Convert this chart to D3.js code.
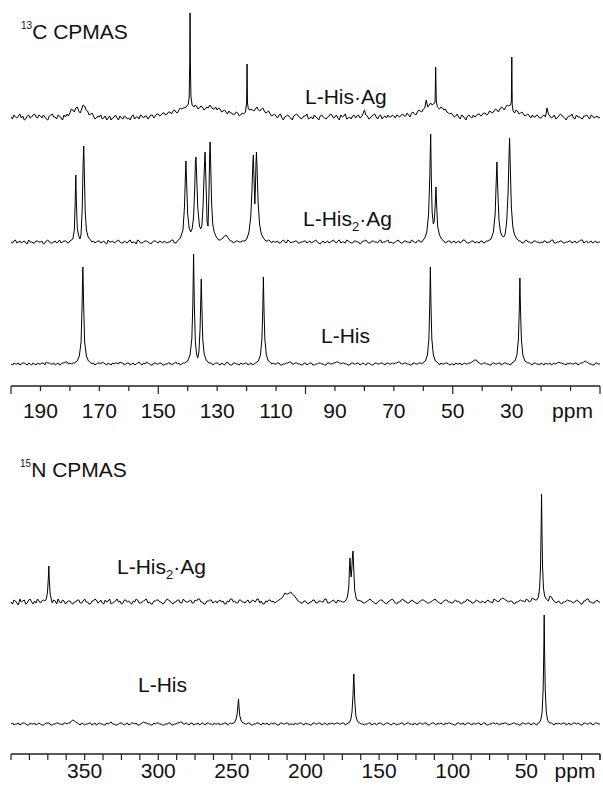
<!DOCTYPE html>
<html><head><meta charset="utf-8">
<script src="https://cdn.jsdelivr.net/npm/d3@7"></script>
<style>
body{margin:0;background:#fff}
svg{display:block}
text{font-family:"Liberation Sans",Arial,Helvetica,sans-serif;fill:#111}
</style>
</head><body>
<svg id="chart" width="603" height="789"></svg>
<script>
// ---------------- DATA ----------------
// 13C axis ticks / labels (ppm)
const ticks13 = d3.range(200, -1, -10);
const labels13 = [190, 170, 150, 130, 110, 90, 70, 50, 30];
// 15N axis ticks / labels (ppm)
const ticks15 = d3.range(0, 33).map(i => 400 - 12.5 * i).concat([0]);
const labels15 = [350, 300, 250, 200, 150, 100, 50];

// 13C baseline samples, every 0.5 ppm from 200 down to 0 (20 per row = 10 ppm)
const hisAg13C_base = [
 0,-2,2,0,-1,1,3,-1,1,-3,-2,1,2,-1,0,2,3,0,-1,2,
 1,-1,2,0,-2,-3,1,2,3,0,0,-2,2,1,-1,-3,2,0,3,1,
 4,8,7,5,9,10,6,4,8,12,11,7,6,2,3,4,1,-2,-1,1,
 0,2,-2,-1,1,-3,-1,1,-3,-1,0,2,-1,-3,1,-1,-2,1,0,-2,
 -1,-3,1,2,-2,0,0,-2,2,1,-1,1,1,-2,0,2,2,-1,1,3,
 3,1,2,4,4,2,3,5,5,3,6,7,5,4,7,9,8,6,9,8,
 10,8,9,11,10,12,11,8,9,11,10,7,8,10,9,12,10,8,8,10,
 7,9,8,5,6,7,5,3,6,4,4,2,3,5,4,1,2,4,3,2,
 4,5,6,8,7,6,8,10,7,6,8,9,6,4,5,6,3,1,2,3,
 1,-1,2,3,-1,-3,0,1,2,0,-1,-3,1,2,3,1,0,-2,-1,1,
 1,3,-2,-1,0,-2,2,0,-1,-3,1,2,0,-1,-2,0,1,3,2,-1,
 0,2,-1,-3,2,0,1,3,-2,-1,0,-2,1,2,-1,1,2,-1,0,3,
 7,2,1,-2,-1,1,2,3,0,-2,1,2,-2,0,1,-1,2,0,0,2,
 1,-1,2,1,0,2,3,1,1,4,2,0,4,5,3,2,5,7,6,5,
 8,9,17,10,12,14,11,12,13,15,14,11,10,9,7,8,5,4,3,4,
 2,0,1,3,0,-2,2,1,-1,-3,1,2,0,-1,2,0,1,3,3,1,
 2,4,4,2,3,6,5,4,6,8,7,5,8,10,9,7,10,12,11,9,
 12,10,8,7,6,3,4,5,3,1,2,3,1,-1,2,0,0,2,1,-1,
 -1,1,2,0,9,3,1,-1,0,2,-2,-1,1,3,2,0,-1,-3,0,1,
 1,3,-1,-2,2,0,0,-1,-2,1,1,2,0,-2,2,1,-1,0,1,-1,
 0];
const hisAg13C_peaks = [
 [[141.5,9],[140.5,10],[139.8,13],[139.5,20],[139.3,55],[139.2,104],[139.1,55],[138.9,20],[138.5,12],[137.8,10]],
 [[121.0,3],[120.4,5],[120.0,14],[119.85,53],[119.7,14],[119.4,8],[118.8,7]],
 [[57.0,12],[56.5,13],[56.0,15],[55.8,50],[55.6,16],[55.2,10],[54.5,8]],
 [[31.0,11],[30.4,12],[30.1,15],[29.95,60],[29.8,12],[29.5,6],[29.0,4]]
];

const his2Ag13C_base = [
 0,-1,1,2,-1,0,1,-1,0,1,-1,-2,2,0,0,-1,-1,1,1,0,
 0,1,-2,-1,1,2,0,-1,-1,0,1,-1,0,2,-1,0,1,1,0,-1,
 0,0,0,0,0,0,0,0,0,0,0,0,0,0,0,0,1,-1,0,1,
 1,-1,0,1,-1,-2,2,0,0,1,-1,0,1,2,0,-1,-1,1,0,-1,
 1,2,-1,0,0,-2,2,1,-1,-1,0,1,1,0,-1,-2,0,1,1,0,
 -1,1,0,-1,1,0,-1,0,0,2,2,-1,-1,0,0,0,0,0,0,0,
 0,0,0,0,0,0,0,0,0,0,0,0,0,0,0,0,0,0,0,0,
 0,0,2,3,4,6,7,5,3,1,1,-1,0,1,1,0,0,1,1,0,
 0,0,0,0,0,0,0,0,0,0,0,0,0,0,1,2,1,-1,1,0,
 0,1,-1,-1,1,2,0,-1,2,1,-1,0,0,1,1,-1,-1,0,0,1,
 1,-1,0,1,-1,0,1,2,0,-1,-2,0,1,-1,0,1,-1,0,1,2,
 0,-1,1,2,-1,0,0,-1,2,1,0,-1,-1,1,1,0,0,-2,-1,1,
 1,2,0,-1,-1,1,1,0,0,-1,1,2,-1,0,0,1,2,-1,0,-1,
 -1,0,1,2,0,-1,-1,1,1,0,0,-1,2,1,0,-1,1,2,0,0,
 0,0,0,0,0,0,0,0,0,0,0,0,0,0,0,-1,0,1,1,-1,
 0,1,-1,0,1,-1,0,2,2,0,-1,-1,0,1,1,-1,0,0,-1,1,
 1,-1,0,1,0,0,0,0,0,0,0,0,0,0,0,0,0,0,0,0,
 0,0,0,0,0,0,1,-1,-1,1,2,0,0,-1,-1,1,1,0,0,-1,
 0,-1,1,1,-1,0,0,2,2,-1,-1,0,0,1,1,-1,-1,0,0,1,
 1,-1,0,1,-1,0,1,2,2,-1,0,1,-1,0,1,-1,0,1,-1,0,
 0];
const his2Ag13C_peaks = [
 [[180.0,1],[179.0,3],[178.5,12],[178.2,40],[178.0,67],[177.8,40],[177.5,14],[177.0,6],[176.6,3],[176.2,8],[175.8,35],[175.5,80],[175.3,96],[175.1,70],[174.8,30],[174.4,12],[173.8,5],[173.0,2]],
 [[143.5,1],[142.5,4],[141.6,12],[141.1,35],[140.8,65],[140.6,81],[140.4,62],[140.0,28],[139.5,14],[139.0,10],[138.5,13],[138.0,25],[137.6,55],[137.4,78],[137.2,85],[137.0,70],[136.6,35],[136.0,16],[135.6,13],[135.2,16],[134.8,35],[134.4,70],[134.1,90],[133.8,60],[133.4,20],[133.1,16],[132.8,45],[132.55,85],[132.4,100],[132.2,80],[131.9,40],[131.5,18],[131.0,10],[130.3,5],[129.5,2]],
 [[120.5,1],[119.8,4],[119.2,10],[118.6,25],[118.2,50],[117.9,78],[117.7,87],[117.45,60],[117.2,38],[117.0,55],[116.8,80],[116.65,90],[116.45,75],[116.1,40],[115.6,18],[115.0,8],[114.3,4],[113.5,1]],
 [[60.3,1],[59.5,4],[58.8,10],[58.2,28],[57.8,65],[57.5,108],[57.25,60],[57.0,30],[56.6,18],[56.3,20],[56.0,35],[55.7,55],[55.45,35],[55.1,15],[54.5,7],[53.8,3],[53.0,1]],
 [[38.0,1],[37.0,3],[36.2,10],[35.6,28],[35.25,60],[35.0,80],[34.75,55],[34.3,22],[33.8,10],[33.2,6],[32.7,5],[32.2,8],[31.7,20],[31.2,50],[30.9,85],[30.7,104],[30.5,80],[30.1,35],[29.6,15],[29.0,7],[28.2,3],[27.5,1]]
];

const his13C_base = [
 0,-1,1,0,0,1,-1,0,1,1,0,-1,1,0,-1,1,0,-1,1,0,
 0,1,1,-1,2,1,1,0,0,1,-1,0,1,-1,0,1,1,2,2,0,
 1,0,1,0,0,0,0,0,0,0,0,0,0,0,0,0,1,-1,0,1,
 1,0,2,1,0,-1,1,0,-1,1,0,1,1,0,2,1,1,-1,0,1,
 1,-1,0,1,-1,0,1,2,0,-1,1,0,2,1,0,-1,-1,1,1,0,
 0,1,1,-1,-1,0,0,1,1,-1,0,1,2,0,1,-1,0,1,1,0,
 0,0,0,0,0,0,0,0,0,0,0,0,0,0,0,1,1,-1,0,1,
 1,0,-1,1,0,-1,1,2,0,-1,-1,1,1,0,0,-1,1,0,0,1,
 1,-1,0,1,-1,0,0,0,0,0,0,0,0,0,0,0,0,0,1,0,
 0,1,1,-1,-1,0,0,1,1,2,2,0,0,1,1,0,0,-1,-1,1,
 1,-1,0,1,1,-1,-1,0,0,1,1,0,0,-1,-1,1,1,0,0,1,
 1,2,2,1,0,1,1,0,0,-1,-1,1,1,0,0,1,1,-1,0,1,
 0,-1,1,1,0,-1,-1,1,1,0,0,1,1,0,-1,1,1,0,0,1,
 0,1,1,2,2,0,0,1,1,0,0,-1,-1,1,1,0,0,1,1,0,
 0,0,0,0,0,0,0,0,0,0,0,-1,1,0,0,1,1,0,-1,0,
 0,-1,1,0,0,1,-1,0,1,0,0,1,1,2,3,4,4,2,1,0,
 0,1,1,0,0,-1,-1,1,1,0,0,1,1,-1,0,1,1,0,0,-1,
 0,0,0,0,0,0,0,0,0,0,0,0,1,0,-1,1,1,0,0,-1,
 1,0,-1,1,0,0,1,-1,0,1,0,1,2,1,1,0,0,-1,1,0,
 1,0,0,1,1,-1,0,1,1,2,3,2,1,0,0,-1,-1,1,1,0,
 0];
const his13C_peaks = [
 [[178.5,1],[177.5,3],[176.8,8],[176.2,22],[175.9,55],[175.6,97],[175.3,55],[175.0,22],[174.4,8],[173.7,3],[172.7,1]],
 [[141.0,1],[140.0,3],[139.2,9],[138.6,25],[138.25,60],[138.0,110],[137.75,60],[137.4,22],[137.0,10],[136.6,6],[136.2,12],[135.8,35],[135.55,65],[135.4,85],[135.2,60],[134.9,25],[134.4,10],[133.7,4],[132.8,1]],
 [[117.0,1],[116.0,3],[115.3,9],[114.8,25],[114.5,55],[114.3,87],[114.1,55],[113.8,25],[113.3,9],[112.6,3],[111.6,1]],
 [[60.3,1],[59.3,3],[58.6,9],[58.1,25],[57.8,60],[57.6,97],[57.4,60],[57.1,25],[56.6,9],[55.9,3],[54.9,1]],
 [[29.9,1],[28.9,3],[28.2,9],[27.7,25],[27.4,55],[27.2,86],[27.0,55],[26.7,25],[26.2,9],[25.5,3],[24.5,1]]
];

// 15N baseline samples, every 1 ppm from 400 down to 0 (20 per row = 20 ppm)
const his2Ag15N_base = [
 0,-2,2,1,-1,-3,3,0,1,2,-2,-1,2,3,0,-2,1,-1,3,1,
 -1,1,2,0,0,0,0,0,-1,2,1,-2,3,0,-1,2,1,-2,0,1,
 1,-1,-2,0,0,2,2,-1,-1,1,3,0,0,-2,-2,1,1,3,2,-1,
 0,2,-1,-2,2,0,1,3,-2,-1,0,1,3,0,1,-2,-1,2,2,0,
 1,-1,-2,1,0,3,2,-1,-1,0,1,2,3,-1,0,-2,-2,1,1,2,
 2,0,0,-2,-1,1,3,2,1,-1,-2,0,0,2,2,-1,-1,3,1,0,
 0,1,2,-1,-1,2,1,3,3,0,0,-2,-2,1,1,2,2,-1,0,1,
 -1,1,2,0,1,-2,-2,1,0,3,3,0,1,-1,-1,2,2,0,0,-1,
 1,2,-1,0,2,1,0,3,3,-1,1,-2,-2,1,0,2,2,0,1,-1,
 0,1,2,3,4,6,9,8,8,9,10,8,7,5,3,1,0,-1,-1,1,
 1,-1,-2,0,0,2,2,-1,-1,1,1,0,0,3,3,-1,-1,0,1,2,
 0,-1,2,1,1,0,0,1,0,0,0,0,0,0,0,0,2,1,1,-1,
 -1,0,1,2,3,1,0,-1,-2,0,1,2,2,0,-1,-2,0,1,2,3,
 1,-1,-2,0,0,2,3,1,1,-1,-1,0,2,1,0,-1,-2,0,1,2,
 2,1,0,-1,-1,0,1,2,3,1,0,-1,-2,0,1,2,2,0,0,-1,
 -1,1,2,0,1,-1,-2,0,0,1,3,1,1,-1,-1,0,2,1,0,-1,
 1,0,-1,1,2,0,0,-1,3,2,1,0,2,3,4,3,2,1,0,1,
 1,-1,-2,0,0,1,2,1,1,0,3,2,0,1,4,3,2,0,0,0,
 0,0,0,0,0,0,6,5,2,1,-1,0,1,-1,-2,0,0,1,2,1,
 1,0,-1,0,2,1,0,-2,-2,1,1,3,3,0,0,-1,-1,1,2,0,
 0];
const his2Ag15N_peaks = [
 [[377.0,1],[376.0,3],[375.2,10],[374.6,25],[374.3,36],[374.0,22],[373.4,8],[372.5,2]],
 [[172.5,2],[171.5,5],[170.6,15],[170.1,35],[169.8,44],[169.4,32],[169.0,25],[168.6,32],[168.0,48],[167.7,51],[167.3,35],[166.6,12],[165.6,4],[164.5,1]],
 [[43.0,2],[41.8,5],[41.0,14],[40.4,35],[40.0,70],[39.7,108],[39.4,70],[39.0,35],[38.4,14],[37.6,6],[36.5,3],[35.0,1]]
];

const his15N_base = [
 0,1,-1,0,0,1,-1,0,1,1,0,-1,-1,1,0,0,1,-1,0,1,
 0,-1,-1,0,1,1,1,-1,-1,0,0,1,1,0,0,-1,1,1,0,1,
 1,3,4,3,2,1,0,-1,1,0,-1,0,0,1,1,-1,0,1,-1,0,
 1,0,0,-1,-1,1,0,1,2,0,0,-1,-1,0,1,1,0,-1,0,1,
 -1,0,1,1,0,1,-1,-1,0,1,2,1,1,0,0,-1,-1,1,0,1,
 1,0,0,-1,-1,0,0,1,1,-1,-1,0,0,1,1,2,2,0,0,1,
 0,-1,1,1,-1,0,0,1,-1,0,1,0,-1,1,1,0,0,-1,1,0,
 0,1,-1,0,0,1,1,-1,0,1,0,1,0,0,0,0,0,0,1,0,
 0,1,1,-1,-1,0,0,1,1,0,-1,1,0,0,1,-1,0,1,0,1,
 0,-1,-1,1,1,0,0,1,1,-1,0,0,-1,1,0,0,1,1,0,-1,
 1,0,0,-1,-1,1,1,0,0,1,1,-1,0,1,0,-1,1,0,1,0,
 0,1,1,0,0,1,1,-1,0,1,0,0,0,0,0,0,0,1,0,0,
 -1,0,0,1,1,-1,0,1,-1,0,1,1,0,-1,0,1,1,0,-1,0,
 1,0,-1,0,0,1,1,-1,0,1,1,0,0,-1,1,0,-1,1,1,0,
 0,1,1,-1,-1,0,1,1,0,-1,1,0,1,0,-1,1,0,1,1,0,
 0,-1,-1,1,1,0,0,1,-1,0,1,1,0,-1,1,0,0,1,1,-1,
 0,1,1,-1,-1,0,0,1,1,0,1,0,-1,1,0,1,1,0,-1,0,
 0,1,1,0,0,-1,-1,1,1,0,0,1,1,-1,0,1,0,-1,1,0,
 0,0,0,0,0,0,1,1,0,-1,1,0,1,0,0,1,1,-1,0,1,
 -1,0,1,1,0,1,0,-1,-1,1,1,0,0,1,1,-1,0,1,1,0,
 0];
const his15N_peaks = [
 [[248.5,1],[247.3,4],[246.4,10],[245.8,20],[245.5,25],[245.2,18],[244.6,8],[243.6,3],[242.5,1]],
 [[170.5,1],[169.3,4],[168.4,12],[167.7,30],[167.4,42],[167.2,50],[166.9,38],[166.5,22],[165.8,8],[164.8,3],[163.5,1]],
 [[41.5,1],[40.2,4],[39.3,12],[38.6,35],[38.2,70],[37.9,109],[37.6,70],[37.2,35],[36.5,12],[35.6,4],[34.3,1]]
];

// ---------------- DRAW ----------------
const svg = d3.select("#chart");
const x13 = d3.scaleLinear().domain([200, 0]).range([11, 600]);
const x15 = d3.scaleLinear().domain([400, 0]).range([11, 600]);

function buildPoints(base, start, groups) {
  const step = start / (base.length - 1);
  const pts = [];
  base.forEach((v, i) => {
    const p = start - i * step;
    const inside = groups.some(g => p <= g[0][0] && p >= g[g.length - 1][0]);
    if (!inside) pts.push([p, v]);
  });
  groups.forEach(g => g.forEach(pt => pts.push(pt)));
  pts.sort((a, b) => b[0] - a[0]);
  return pts;
}

const spectra = [
  {base: hisAg13C_base, peaks: hisAg13C_peaks, x: x13, start: 200, y0: 117},
  {base: his2Ag13C_base, peaks: his2Ag13C_peaks, x: x13, start: 200, y0: 242},
  {base: his13C_base, peaks: his13C_peaks, x: x13, start: 200, y0: 364},
  {base: his2Ag15N_base, peaks: his2Ag15N_peaks, x: x15, start: 400, y0: 602},
  {base: his15N_base, peaks: his15N_peaks, x: x15, start: 400, y0: 724}
];

spectra.forEach(s => {
  const y = d3.scaleLinear().domain([0, 100]).range([s.y0, s.y0 - 100]);
  const pts = buildPoints(s.base, s.start, s.peaks);
  svg.append("path")
    .datum(pts)
    .attr("fill", "none")
    .attr("stroke", "#000")
    .attr("stroke-width", 1)
    .attr("stroke-linejoin", "round")
    .attr("d", d3.line().x(d => s.x(d[0])).y(d => y(d[1])));
});

// Axes
function drawAxis(x, ticks, yPos, majorTest, minorLen, majorLen) {
  const g = svg.append("g").attr("transform", `translate(0,${yPos})`);
  g.append("line").attr("x1", x.range()[0]).attr("x2", x.range()[1])
    .attr("stroke", "#222").attr("stroke-width", 1.3);
  g.selectAll("line.t").data(ticks).join("line").attr("class", "t")
    .attr("x1", d => x(d)).attr("x2", d => x(d))
    .attr("y1", 0).attr("y2", d => majorTest(d) ? majorLen : minorLen)
    .attr("stroke", "#222").attr("stroke-width", 1.2);
  return g;
}
drawAxis(x13, ticks13, 386, d => d % 50 === 0, 5, 8);
svg.selectAll("text.l13").data(labels13).join("text").attr("class", "l13")
  .attr("x", d => x13(d)).attr("y", 418).attr("text-anchor", "middle")
  .attr("font-size", 21).text(d => d);
svg.append("text").attr("x", x13(10) + 2).attr("y", 418).attr("text-anchor", "middle")
  .attr("font-size", 21).text("ppm");

drawAxis(x15, ticks15, 754, d => false, 6, 6);
svg.selectAll("text.l15").data(labels15).join("text").attr("class", "l15")
  .attr("x", d => x15(d)).attr("y", 778).attr("text-anchor", "middle")
  .attr("font-size", 21).text(d => d);
svg.append("text").attr("x", x15(17)).attr("y", 778).attr("text-anchor", "middle")
  .attr("font-size", 21).text("ppm");

// Titles (superscript mass numbers)
function title(x, y, mass, rest) {
  const t = svg.append("text").attr("x", x).attr("y", y).attr("font-size", 21);
  t.append("tspan").attr("font-size", 10).attr("dy", -10).text(mass);
  t.append("tspan").attr("dy", 10).text(rest);
}
title(21, 39, "13", "C CPMAS");
title(20, 477, "15", "N CPMAS");

// Sample labels
function sampleLabel(x, y, sub) {
  const t = svg.append("text").attr("x", x).attr("y", y).attr("font-size", 21);
  t.append("tspan").text("L-His");
  if (sub) {
    t.append("tspan").attr("font-size", 13).attr("dy", 5).text("2");
    t.append("tspan").attr("dy", -5).text("·Ag");
  }
  return t;
}
svg.append("text").attr("x", 305).attr("y", 104).attr("font-size", 21).text("L-His·Ag");
sampleLabel(303, 226, true);
sampleLabel(321, 343, false);
sampleLabel(117, 574, true);
sampleLabel(138, 692, false);
</script>
</body></html>
